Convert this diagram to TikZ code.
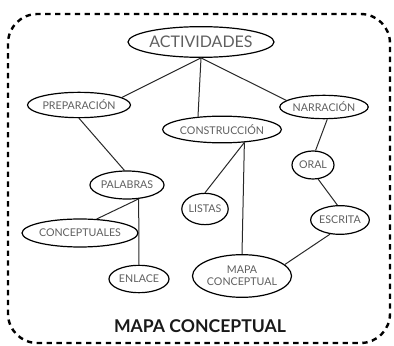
\documentclass[tikz,border=0pt]{standalone}
\usepackage{fontspec}
\setmainfont{Lato}
\usetikzlibrary{shapes.geometric, positioning}
\definecolor{labelgray}{RGB}{95,95,95}
\definecolor{linkgray}{RGB}{40,40,40}
\tikzset{
  concept/.style={ellipse, draw=black, line width=0.9pt, inner sep=0pt,
    align=center, text=labelgray, font=\fontsize{8}{8.8}\selectfont},
  topconcept/.style={concept, font=\fontsize{12}{14}\selectfont},
  link/.style={draw=linkgray, line width=0.75pt},
  border/.style={draw=black, line width=1.8pt, dash pattern=on 4pt off 3.4pt,
    rounded corners=22pt},
}
\begin{document}
\begin{tikzpicture}[x=0.75pt,y=-0.75pt]
\useasboundingbox (0,0) rectangle (394,346);

% dashed frame
\draw[border] (8,14) rectangle (390,343);

\node[topconcept, minimum width=87pt, minimum height=23pt] (act) at (201,42) {ACTIVIDADES};
\node[concept, minimum width=64.5pt, minimum height=19pt] (prep) at (79,105) {PREPARACIÓN};
\node[concept, minimum width=63pt, minimum height=20pt] (cons) at (222,129.5) {CONSTRUCCIÓN};
\node[concept, minimum width=55pt, minimum height=17.5pt] (narr) at (324,107) {NARRACIÓN};
\node[concept, minimum width=46.5pt, minimum height=21pt] (pal) at (127,185) {PALABRAS};
\node[concept, minimum width=67.5pt, minimum height=21pt] (conc) at (80,233) {CONCEPTUALES};
\node[concept, minimum width=45pt, minimum height=20.5pt] (enl) at (139,279) {ENLACE};
\node[concept, minimum width=33pt, minimum height=23.5pt] (list) at (205,209) {LISTAS};
\node[concept, minimum width=67.5pt, minimum height=32pt] (map) at (242,276) {MAPA\\CONCEPTUAL};
\node[concept, minimum width=31.5pt, minimum height=21pt] (oral) at (313,165) {ORAL};
\node[concept, minimum width=42pt, minimum height=21.5pt] (esc) at (340,220) {ESCRITA};

\node[font=\fontsize{13.2}{15}\selectfont\bfseries, text=black!90] (title) at (200,326) {MAPA CONCEPTUAL};

% links
\draw[link] (act.south) -- (prep.10);
\draw[link] (act.south) -- (cons.152);
\draw[link] (act.south) -- (narr.170);
\draw[link] (prep.south) -- (pal.100);
\draw[link] (pal.-50) -- (conc.40);
\draw[link] (pal.-50) -- (enl.north);
\draw[link] (cons.-30) -- (list.north);
\draw[link] (cons.-30) -- (map.north);
\draw[link] (narr.-75) -- (oral.80);
\draw[link] (oral.-70) -- (esc.100);
\draw[link] (esc.-125) -- (map.15);

\end{tikzpicture}
\end{document}
